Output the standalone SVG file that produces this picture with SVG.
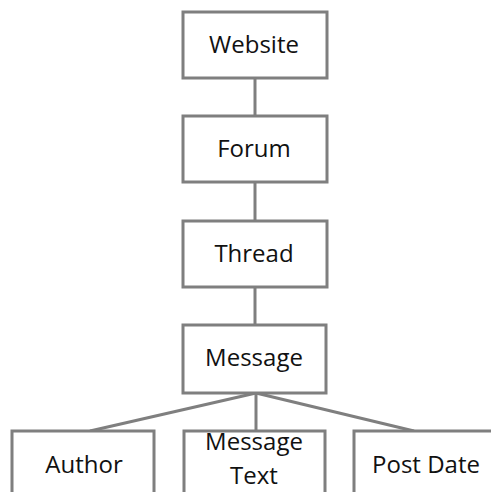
<svg xmlns="http://www.w3.org/2000/svg" width="491" height="492" viewBox="0 0 491 492">
<style>
.box{fill:#fff;stroke:#7f7f7f;stroke-width:3}
.lbl{font-family:"Open Sans","Noto Sans",sans-serif;font-size:24px;fill:#111;text-anchor:middle}
.con{stroke:#7f7f7f;stroke-width:3;fill:none}
</style>
<rect width="491" height="492" fill="#fff"/>
<g id="connectors">
<line class="con" x1="255" y1="78" x2="255" y2="116"/>
<line class="con" x1="255" y1="182" x2="255" y2="222"/>
<line class="con" x1="255" y1="287" x2="255" y2="325"/>
<line class="con" x1="256" y1="393" x2="90" y2="431"/>
<line class="con" x1="256" y1="393" x2="256" y2="431"/>
<line class="con" x1="256" y1="393" x2="414" y2="431"/>
</g>
<g id="website"><rect class="box" x="183" y="12" width="144" height="66"/><text class="lbl" x="254" y="53">Website</text></g>
<g id="forum"><rect class="box" x="183" y="116" width="144" height="66"/><text class="lbl" x="254" y="157">Forum</text></g>
<g id="thread"><rect class="box" x="183" y="221" width="144" height="66"/><text class="lbl" x="254" y="262">Thread</text></g>
<g id="message"><rect class="box" x="183" y="325" width="143" height="68"/><text class="lbl" x="254" y="366">Message</text></g>
<g id="author"><rect class="box" x="12" y="431" width="142" height="70"/><text class="lbl" x="84" y="473">Author</text></g>
<g id="messagetext"><rect class="box" x="184" y="431" width="141" height="70"/><text class="lbl" x="254" y="450">Message</text><text class="lbl" x="254" y="484">Text</text></g>
<g id="postdate"><rect class="box" x="354" y="431" width="142" height="70"/><text class="lbl" x="426" y="473">Post Date</text></g>
</svg>
